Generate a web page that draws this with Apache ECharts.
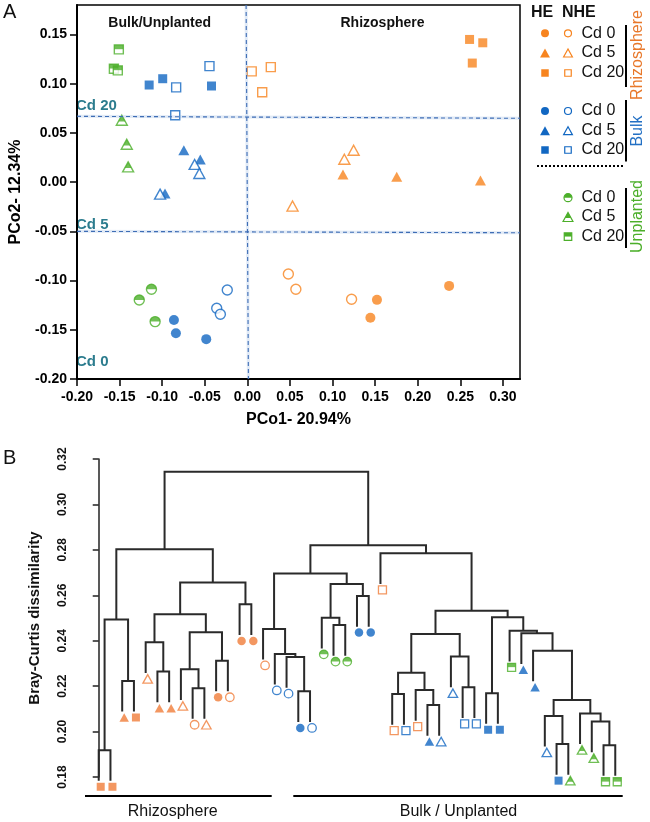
<!DOCTYPE html>
<html><head><meta charset="utf-8">
<script src="https://cdn.jsdelivr.net/npm/echarts@6/dist/echarts.min.js"></script>
<style>html,body{margin:0;padding:0;background:#fff}#c{width:650px;height:822px}</style>
</head><body><div id="c"></div>
<script>
// ---------- Panel A: PCoA coordinates [PCo1, PCo2] ----------
const rhizoHE_Cd0   = [[0.1521,-0.1196],[0.1444,-0.1378],[0.2368,-0.1054]];
const rhizoNHE_Cd0  = [[0.0481,-0.0933],[0.0569,-0.1088],[0.1223,-0.1190]];
const rhizoHE_Cd5   = [[0.1122,0.0078],[0.1753,0.0054],[0.2736,0.0017]];
const rhizoNHE_Cd5  = [[0.0530,-0.0243],[0.1138,0.0233],[0.1247,0.0324]];
const rhizoHE_Cd20  = [[0.2608,0.1450],[0.2763,0.1416],[0.2640,0.1210]];
const rhizoNHE_Cd20 = [[0.0051,0.1126],[0.0275,0.1169],[0.0174,0.0913]];
const bulkHE_Cd0    = [[-0.0862,-0.1400],[-0.0839,-0.1535],[-0.0483,-0.1595]];
const bulkNHE_Cd0   = [[-0.0236,-0.1095],[-0.0360,-0.1281],[-0.0317,-0.1342]];
const bulkHE_Cd5    = [[-0.0746,0.0324],[-0.0553,0.0230],[-0.0967,-0.0115]];
const bulkNHE_Cd5   = [[-0.0619,0.0180],[-0.0564,0.0088],[-0.1025,-0.0122]];
const bulkHE_Cd20   = [[-0.1153,0.0987],[-0.0994,0.1051],[-0.0421,0.0977]];
const bulkNHE_Cd20  = [[-0.0836,0.0963],[-0.0445,0.1179],[-0.0847,0.0680]];
const unpl_Cd0      = [[-0.1126,-0.1088],[-0.1269,-0.1197],[-0.1083,-0.1417]];
const unpl_Cd5      = [[-0.1474,0.0629],[-0.1416,0.0385],[-0.1400,0.0155]];
const unpl_Cd20     = [[-0.1509,0.1349],[-0.1567,0.1153],[-0.1521,0.1136]];
const pcoXTicks = [-0.20,-0.15,-0.10,-0.05,0.00,0.05,0.10,0.15,0.20,0.25,0.30];
const pcoYTicks = [-0.20,-0.15,-0.10,-0.05,0.00,0.05,0.10,0.15];
// threshold dashed lines (y at left end, y at right end)
const cd20Line = [0.0669, 0.0649];
const cd5Line  = [-0.0500, -0.0514];

// ---------- Panel B: dendrogram ----------
const leafTypes = ['R-HE-20','R-HE-20','R-HE-5','R-HE-20','R-NHE-5','R-HE-5','R-HE-5','R-NHE-5','R-NHE-0','R-NHE-5',
 'R-HE-0','R-NHE-0','R-HE-0','R-HE-0','R-NHE-0','B-NHE-0','B-NHE-0','B-HE-0','B-NHE-0','U-U-0',
 'U-U-0','U-U-0','B-HE-0','B-HE-0','R-NHE-20','R-NHE-20','B-NHE-20','R-NHE-20','B-HE-5','B-NHE-5',
 'B-NHE-5','B-NHE-20','B-NHE-20','B-HE-20','B-HE-20','U-U-20','B-HE-5','B-HE-5','B-NHE-5','B-HE-20',
 'U-U-5','U-U-5','U-U-5','U-U-20','U-U-20'];
// hclust-style merges: negative = leaf (-(index+1)), positive = earlier merge row (1-based); third = height
const merges = [
 [-1,-2,0.1918],[-3,-4,0.2223],[1,2,0.2493],[-6,-7,0.2264],[-5,4,0.2393],[-9,-10,0.2191],[-8,6,0.2274],
 [-11,-12,0.2312],[7,8,0.2437],[5,9,0.2516],[-13,-14,0.2560],[10,11,0.2656],[3,12,0.2803],
 [-18,-19,0.2177],[-17,14,0.2328],[-16,15,0.2342],[-15,16,0.2452],[-21,-22,0.2469],[-20,18,0.2501],
 [-23,-24,0.2597],[19,20,0.2650],[17,21,0.2696],[-26,-27,0.2165],[-29,-30,0.2117],[-28,24,0.2183],
 [23,25,0.2259],[-32,-33,0.2195],[-31,27,0.2330],[26,28,0.2430],[-34,-35,0.2169],[-40,-41,0.1945],
 [-39,31,0.2069],[-44,-45,0.1940],[-43,33,0.2044],[-42,34,0.2080],[32,35,0.2139],[-38,36,0.2356],
 [-37,37,0.2433],[-36,38,0.2444],[30,39,0.2503],[29,40,0.2532],[-25,41,0.2785],[22,42,0.2820],[13,43,0.3144]];
const dendroYTicks = [0.18,0.20,0.22,0.24,0.26,0.28,0.30,0.32];
const HANG = 0.0135, MOFF = 0.0026, MDX = 0.17;

// ---------- styling ----------
const FONT = '"Liberation Sans", Arial, sans-serif';
const ORA = '#F7841F', ORB = '#F07D3A', BL = '#1167C2', GR = '#4CAF2A', TEAL = '#2C7C8E';

function symSeries(type, data, xi, yi, S, orange){
  const [g, eco, cd] = type.split('-');
  const color = {R:orange, B:BL, U:GR}[g];
  const shape = {'0':'circle','5':'triangle','20':'rect'}[cd];
  const size = S[shape];
  const base = {type:'scatter', xAxisIndex:xi, yAxisIndex:yi, data, symbol:shape, symbolSize:size, clip:false, silent:true, z:3};
  const out = [];
  if (eco === 'HE') out.push(Object.assign({}, base, {itemStyle:{color, borderWidth:0}}));
  else {
    out.push(Object.assign({}, base, {itemStyle:{color:'#fff', borderColor:color, borderWidth:S.bw}}));
    if (eco === 'U') {
      const w = Array.isArray(size) ? size[0] : size, h = Array.isArray(size) ? size[1] : size;
      let ov;
      if (shape === 'circle') ov = {symbol:'path://M0,10A10,10 0 0 1 20,10Z', symbolSize:[w,h/2], symbolOffset:[0,-h/4]};
      else if (shape === 'rect') ov = {symbol:'rect', symbolSize:[w,h*0.48], symbolOffset:[0,-h*0.26]};
      else ov = {symbol:'triangle', symbolSize:[w*0.62,h*0.62], symbolOffset:[0,-h*0.19]};
      out.push(Object.assign({}, base, ov, {z:4, itemStyle:{color, borderWidth:0}}));
    }
  }
  return out;
}

const series = [];
const pcoSets = [
 ['U-U-0',unpl_Cd0],['U-U-5',unpl_Cd5],['U-U-20',unpl_Cd20],
 ['B-HE-0',bulkHE_Cd0],['B-NHE-0',bulkNHE_Cd0],['B-HE-5',bulkHE_Cd5],['B-NHE-5',bulkNHE_Cd5],
 ['B-HE-20',bulkHE_Cd20],['B-NHE-20',bulkNHE_Cd20],
 ['R-HE-0',rhizoHE_Cd0],['R-NHE-0',rhizoNHE_Cd0],['R-HE-5',rhizoHE_Cd5],['R-NHE-5',rhizoNHE_Cd5],
 ['R-HE-20',rhizoHE_Cd20],['R-NHE-20',rhizoNHE_Cd20]];
const SA = {circle:10, triangle:[11,10], rect:9, bw:1.4};
pcoSets.forEach(([t,d]) => series.push(...symSeries(t, d, 0, 0, SA, ORA)));

// dashed reference lines in panel A
const dash = {type:[4,3], color:'#3E6DB5', width:1.1};
const glow = {type:'solid', color:'rgba(120,160,215,0.22)', width:3};
function ml(style){
  return {silent:true, symbol:['none','none'], label:{show:false}, lineStyle:style, animation:false,
    data:[
      [{coord:[-0.2,cd20Line[0]]},{coord:[0.32,cd20Line[1]]}],
      [{coord:[-0.2,cd5Line[0]]},{coord:[0.32,cd5Line[1]]}],
      [{coord:[-0.0015,0.18]},{coord:[0.0012,-0.2]}]]};
}
series.push({type:'scatter', xAxisIndex:0, yAxisIndex:0, data:[], markLine:ml(glow), z:1});
series.push({type:'scatter', xAxisIndex:0, yAxisIndex:0, data:[], markLine:ml(dash), z:2});

// dendrogram geometry from merges
const nodeX = [], nodeH = [], parentH = [];
merges.forEach(([a,b,h],k) => {
  const xa = a < 0 ? -a-1 : nodeX[a-1], xb = b < 0 ? -b-1 : nodeX[b-1];
  nodeX[k] = (xa+xb)/2; nodeH[k] = h;
  if (a < 0) parentH[-a-1] = h;
  if (b < 0) parentH[-b-1] = h;
});
const segs = merges.map(([a,b,h]) => {
  const xa = a < 0 ? -a-1 : nodeX[a-1], xb = b < 0 ? -b-1 : nodeX[b-1];
  const ya = a < 0 ? h-HANG : nodeH[a-1], yb = b < 0 ? h-HANG : nodeH[b-1];
  return {coords:[[xa,ya],[xa,h],[xb,h],[xb,yb]]};
});
series.push({type:'lines', coordinateSystem:'cartesian2d', xAxisIndex:1, yAxisIndex:1, polyline:true, clip:false, silent:true,
  data:segs, lineStyle:{color:'#2A2A2A', width:2, opacity:1}, z:2});
const byType = {};
leafTypes.forEach((t,i) => { (byType[t] = byType[t] || []).push([i+MDX, parentH[i]-HANG-MOFF]); });
const SB = {circle:8.5, triangle:[9.5,8.5], rect:8, bw:1.3};
Object.keys(byType).forEach(t => series.push(...symSeries(t, byType[t], 1, 1, SB, ORB)));

// ---------- legend & annotations (graphic) ----------
const G = [];
function txt(x,y,text,font,fill,align,rot){
  G.push({type:'text', x, y, rotation:rot||0, silent:true,
    style:{text, font, fill, align:align||'left', verticalAlign:'middle', textAlign:align||'left', textVerticalAlign:'middle'}});
}
function lsym(shape, mode, x, y, s, color){
  const fill = mode === 'full' ? color : '#fff', lw = mode === 'full' ? 0 : 1.2;
  const st = {fill, stroke:color, lineWidth:lw};
  if (shape === 'circle') G.push({type:'circle', silent:true, shape:{cx:x, cy:y, r:s/2}, style:st});
  else if (shape === 'triangle') G.push({type:'polygon', silent:true, shape:{points:[[x,y-s/2],[x-s*0.55,y+s/2],[x+s*0.55,y+s/2]]}, style:st});
  else G.push({type:'rect', silent:true, shape:{x:x-s/2, y:y-s/2, width:s, height:s}, style:st});
  if (mode === 'half') {
    const hs = {fill:color, lineWidth:0};
    if (shape === 'circle') G.push({type:'sector', silent:true, shape:{cx:x, cy:y, r:s/2, startAngle:Math.PI, endAngle:2*Math.PI, clockwise:true}, style:hs});
    else if (shape === 'triangle') G.push({type:'polygon', silent:true, shape:{points:[[x,y-s/2],[x-s*0.55*0.62,y-s/2+s*0.62],[x+s*0.55*0.62,y-s/2+s*0.62]]}, style:hs});
    else G.push({type:'rect', silent:true, shape:{x:x-s/2, y:y-s/2, width:s, height:s*0.48}, style:hs});
  }
}
const legendCd = ['Cd 0','Cd 5','Cd 20'];
const legendShapes = ['circle','triangle','rect'];
const legendSizes = {circle:8, triangle:9, rect:7.5};
const rowsR = [33.3,53,73], rowsB = [111,130.7,150], rowsU = [197.7,217,236.7];
txt(531,12.5,'HE','bold 16px '+FONT,'#111');
txt(562,12.5,'NHE','bold 16px '+FONT,'#111');
[[rowsR,ORA],[rowsB,BL]].forEach(([rows,c]) => rows.forEach((y,i) => {
  lsym(legendShapes[i],'full',545,y,legendSizes[legendShapes[i]],c);
  lsym(legendShapes[i],'open',568,y,legendSizes[legendShapes[i]]-1,c);
  txt(581.5,y,legendCd[i],'16px '+FONT,'#111');
}));
rowsU.forEach((y,i) => {
  lsym(legendShapes[i],'half',568,y,legendSizes[legendShapes[i]],GR);
  txt(581.5,y,legendCd[i],'16px '+FONT,'#111');
});
[[25,87],[100,161.5],[188,248]].forEach(([a,b]) => G.push({type:'line', silent:true, shape:{x1:626,y1:a,x2:626,y2:b}, style:{stroke:'#000', lineWidth:2}}));
G.push({type:'line', silent:true, shape:{x1:537,y1:166,x2:623,y2:166}, style:{stroke:'#000', lineWidth:2, lineDash:[2,2]}});
txt(637.5,55,'Rhizosphere','16px '+FONT,'#E8782A','center',Math.PI/2);
txt(637.5,131,'Bulk','16px '+FONT,'#2370C4','center',Math.PI/2);
txt(637.5,216.5,'Unplanted','16px '+FONT,GR,'center',Math.PI/2);
// panel A annotations
txt(159.7,23.3,'Bulk/Unplanted','bold 14px '+FONT,'#111','center');
txt(382.5,23.3,'Rhizosphere','bold 14px '+FONT,'#111','center');
txt(76,105.5,'Cd 20','bold 15px '+FONT,TEAL);
txt(76,225,'Cd 5','bold 15px '+FONT,TEAL);
txt(76,362.3,'Cd 0','bold 15px '+FONT,TEAL);
txt(3,12.5,'A','20px '+FONT,'#111');
txt(3,458.5,'B','20px '+FONT,'#111');
// panel B group bars
G.push({type:'line', silent:true, shape:{x1:85,y1:796,x2:271.7,y2:796}, style:{stroke:'#000', lineWidth:2}});
G.push({type:'line', silent:true, shape:{x1:293.3,y1:796,x2:622.7,y2:796}, style:{stroke:'#000', lineWidth:2}});
txt(172.7,811.5,'Rhizosphere','16px '+FONT,'#111','center');
txt(458.5,811.5,'Bulk / Unplanted','16px '+FONT,'#111','center');

const f2 = v => v.toFixed(2);
const option = {
  animation:false,
  backgroundColor:'#fff',
  grid:[
    {left:72, top:5, width:448, height:374, show:true, borderColor:'#000', borderWidth:1.5, backgroundColor:'transparent'},
    {left:77, top:459, width:550, height:318}
  ],
  xAxis:[
    {type:'value', gridIndex:0, min:-0.2, max:0.32, interval:0.05,
     axisLine:{show:true, onZero:false, lineStyle:{color:'#000', width:2}},
     axisTick:{show:true, length:7, customValues:pcoXTicks, lineStyle:{color:'#000', width:1.5}},
     axisLabel:{customValues:pcoXTicks, formatter:f2, fontSize:14, fontWeight:'bold', color:'#000', fontFamily:FONT, margin:11},
     splitLine:{show:false},
     name:'PCo1- 20.94%', nameLocation:'middle', nameGap:33,
     nameTextStyle:{fontSize:16, fontWeight:'bold', color:'#000', fontFamily:FONT}},
    {type:'value', gridIndex:1, min:-1.85, max:45, show:false}
  ],
  yAxis:[
    {type:'value', gridIndex:0, min:-0.2, max:0.18, interval:0.05,
     axisLine:{show:true, onZero:false, lineStyle:{color:'#000', width:2}},
     axisTick:{show:true, length:7, customValues:pcoYTicks, lineStyle:{color:'#000', width:1.5}},
     axisLabel:{customValues:pcoYTicks, formatter:f2, fontSize:14, fontWeight:'bold', color:'#000', fontFamily:FONT, margin:10},
     splitLine:{show:false},
     name:'PCo2- 12.34%', nameLocation:'middle', nameGap:53,
     nameTextStyle:{fontSize:16, fontWeight:'bold', color:'#000', fontFamily:FONT}},
    {type:'value', gridIndex:1, min:0.18, max:0.32, interval:0.02,
     axisLine:{show:true, lineStyle:{color:'#222', width:1.5}},
     axisTick:{show:true, length:6, customValues:dendroYTicks, lineStyle:{color:'#222', width:1.5}},
     axisLabel:{customValues:dendroYTicks, formatter:f2, rotate:90, fontSize:12, fontWeight:'bold', color:'#111', fontFamily:FONT, margin:8},
     splitLine:{show:false},
     name:'Bray-Curtis dissimilarity', nameLocation:'middle', nameGap:35,
     nameTextStyle:{fontSize:15, fontWeight:'bold', color:'#111', fontFamily:FONT}}
  ],
  graphic:G,
  series
};
const chart = echarts.init(document.getElementById('c'));
chart.setOption(option);
</script></body></html>
